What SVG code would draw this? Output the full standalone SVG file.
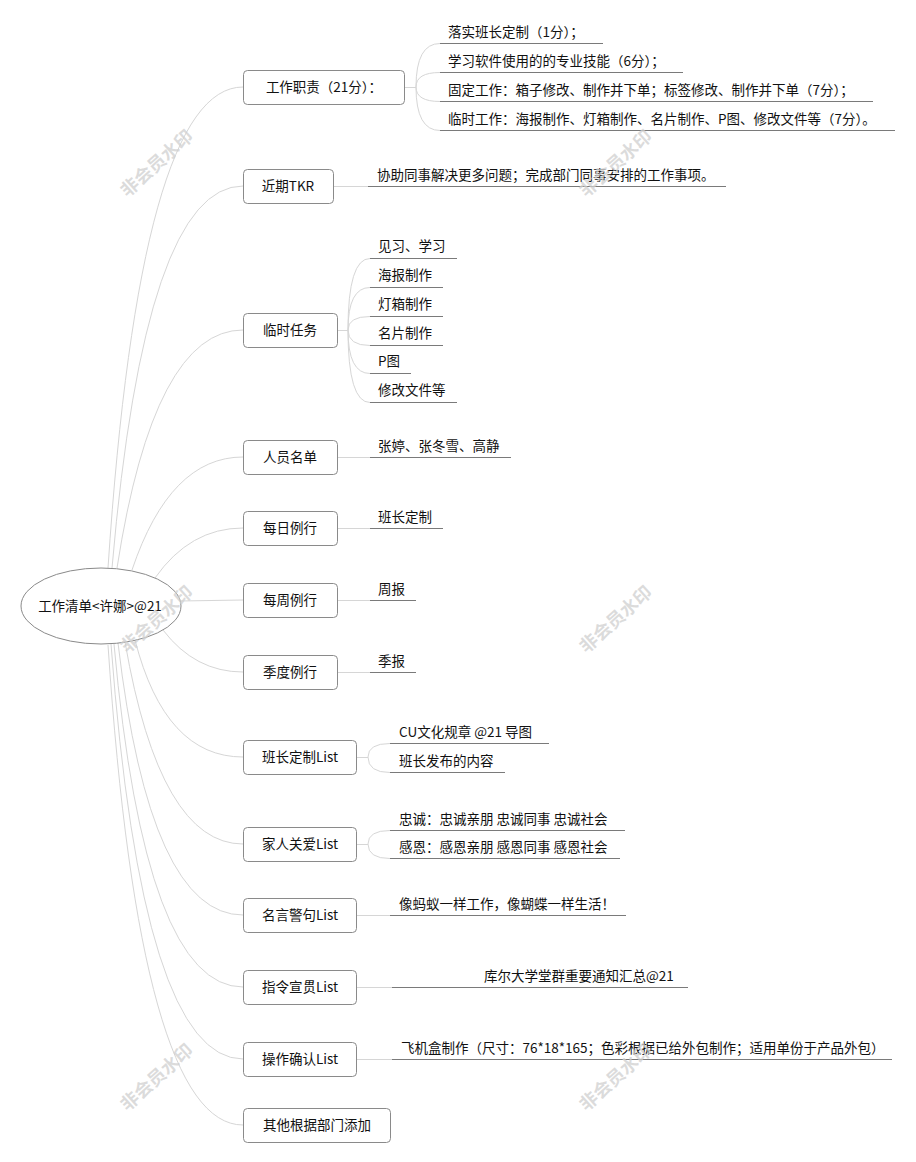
<svg xmlns="http://www.w3.org/2000/svg" width="916" height="1162" viewBox="0 0 916 1162">
<style>
text{font-family:"Noto Sans CJK SC","Liberation Sans",sans-serif;font-size:13.5px;fill:#111}
.box{fill:#fff;stroke:#8a8a8a;stroke-width:1}
.c{fill:none;stroke:#d6d6d6;stroke-width:1}
.u{fill:none;stroke:#7a7a7a;stroke-width:1}
.bt{text-anchor:middle}
.wm{font-size:18px;font-weight:bold;fill:#d0d0d0;fill-opacity:0.75;text-anchor:middle}
</style>
<rect width="916" height="1162" fill="#fff"/>
<g id="connectors">
<path class="c" d="M108,568 Q140,87 243,87"/>
<path class="c" d="M112,568 Q145,186 243,186"/>
<path class="c" d="M117,568 Q154,330 243,330"/>
<path class="c" d="M132,570 Q170,457 243,457"/>
<path class="c" d="M155,578 Q190,528 243,528"/>
<path class="c" d="M180,601 L243,600"/>
<path class="c" d="M163,630 Q195,672 243,672"/>
<path class="c" d="M135,640 Q165,757 243,757"/>
<path class="c" d="M125,642 Q160,844 243,844"/>
<path class="c" d="M118,643 Q150,915 243,915"/>
<path class="c" d="M114,644 Q145,987 243,987"/>
<path class="c" d="M111,644 Q142,1059 243,1059"/>
<path class="c" d="M108,645 Q140,1125 243,1125"/>
<path class="c" d="M404,87.5 H416 M416,87 Q416,43.5 440,43.5 M416,87 Q416,72.5 440,72.5 M416,87 Q416,101.5 440,101.5 M416,87 Q416,130.5 440,130.5"/>
<path class="c" d="M333,186.5 H368"/>
<path class="c" d="M337,330.5 H348 M348,330 Q348,258.5 370,258.5 M348,330 Q348,287.5 370,287.5 M348,330 Q348,316.5 370,316.5 M348,330 Q348,345.5 370,345.5 M348,330 Q348,373.5 370,373.5 M348,330 Q348,402.5 370,402.5"/>
<path class="c" d="M337,457.5 H370"/>
<path class="c" d="M337,528.5 H370"/>
<path class="c" d="M337,600.5 H370"/>
<path class="c" d="M337,672.5 H370"/>
<path class="c" d="M356,757.5 H368 M368,757 Q368,743.5 390,743.5 M368,757 Q368,772.5 390,772.5"/>
<path class="c" d="M356,844.5 H368 M368,844 Q368,830.5 390,830.5 M368,844 Q368,858.5 390,858.5"/>
<path class="c" d="M356,915.5 H390"/>
<path class="c" d="M356,987.5 H392"/>
<path class="c" d="M356,1059.5 H392"/>
</g>
<g id="root">
<ellipse cx="101" cy="606" rx="80" ry="38" fill="#fff" stroke="#8a8a8a"/>
<text class="bt" x="100" y="611">工作清单&lt;许娜&gt;@21</text>
</g>
<g id="n1">
<rect class="box" x="243.5" y="70.5" width="161" height="34" rx="4"/>
<text class="bt" x="324" y="92">工作职责（21分）：</text>
</g>
<g id="n1-children">
<path class="u" d="M440,43.5 H603 M440,72.5 H683 M440,101.5 H873 M440,130.5 H895"/>
<text x="448" y="37">落实班长定制（1分）；</text>
<text x="448" y="66">学习软件使用的的专业技能（6分）；</text>
<text x="448" y="95">固定工作：箱子修改、制作并下单；标签修改、制作并下单（7分）；</text>
<text x="448" y="124">临时工作：海报制作、灯箱制作、名片制作、P图、修改文件等（7分）。</text>
</g>
<g id="n2">
<rect class="box" x="243.5" y="169.5" width="90" height="34" rx="4"/>
<text class="bt" x="288" y="191">近期TKR</text>
<path class="u" d="M368,186.5 H726"/>
<text x="377" y="180">协助同事解决更多问题；完成部门同事安排的工作事项。</text>
</g>
<g id="n3">
<rect class="box" x="243.5" y="313.5" width="94" height="34" rx="4"/>
<text class="bt" x="290" y="335">临时任务</text>
<path class="u" d="M370,258.5 H457 M370,287.5 H443 M370,316.5 H443 M370,345.5 H443 M370,373.5 H411 M370,402.5 H457"/>
<text x="378" y="251">见习、学习</text>
<text x="378" y="280">海报制作</text>
<text x="378" y="309">灯箱制作</text>
<text x="378" y="338">名片制作</text>
<text x="378" y="366">P图</text>
<text x="378" y="395">修改文件等</text>
</g>
<g id="n4">
<rect class="box" x="243.5" y="440.5" width="94" height="34" rx="4"/>
<text class="bt" x="290" y="462">人员名单</text>
<path class="u" d="M370,457.5 H511"/>
<text x="378" y="451">张婷、张冬雪、高静</text>
</g>
<g id="n5">
<rect class="box" x="243.5" y="511.5" width="94" height="34" rx="4"/>
<text class="bt" x="290" y="533">每日例行</text>
<path class="u" d="M370,528.5 H443"/>
<text x="378" y="522">班长定制</text>
</g>
<g id="n6">
<rect class="box" x="243.5" y="583.5" width="94" height="34" rx="4"/>
<text class="bt" x="290" y="605">每周例行</text>
<path class="u" d="M370,600.5 H416"/>
<text x="378" y="594">周报</text>
</g>
<g id="n7">
<rect class="box" x="243.5" y="655.5" width="94" height="34" rx="4"/>
<text class="bt" x="290" y="677">季度例行</text>
<path class="u" d="M370,672.5 H416"/>
<text x="378" y="666">季报</text>
</g>
<g id="n8">
<rect class="box" x="243.5" y="740.5" width="113" height="34" rx="4"/>
<text class="bt" x="300" y="762">班长定制List</text>
<path class="u" d="M390,743.5 H549 M390,772.5 H505"/>
<text x="399" y="737">CU文化规章 @21 导图</text>
<text x="399" y="766">班长发布的内容</text>
</g>
<g id="n9">
<rect class="box" x="243.5" y="827.5" width="113" height="34" rx="4"/>
<text class="bt" x="300" y="849">家人关爱List</text>
<path class="u" d="M390,830.5 H625 M390,858.5 H620"/>
<text x="399" y="824">忠诚：忠诚亲朋 忠诚同事 忠诚社会</text>
<text x="399" y="852">感恩：感恩亲朋 感恩同事 感恩社会</text>
</g>
<g id="n10">
<rect class="box" x="243.5" y="898.5" width="113" height="34" rx="4"/>
<text class="bt" x="300" y="920">名言警句List</text>
<path class="u" d="M390,915.5 H626"/>
<text x="399" y="909">像蚂蚁一样工作，像蝴蝶一样生活！</text>
</g>
<g id="n11">
<rect class="box" x="243.5" y="970.5" width="113" height="34" rx="4"/>
<text class="bt" x="300" y="992">指令宣贯List</text>
<path class="u" d="M392,987.5 H688"/>
<text x="484" y="981">库尔大学堂群重要通知汇总@21</text>
</g>
<g id="n12">
<rect class="box" x="243.5" y="1042.5" width="113" height="34" rx="4"/>
<text class="bt" x="300" y="1064">操作确认List</text>
<path class="u" d="M392,1059.5 H892"/>
<text x="401" y="1053">飞机盒制作（尺寸：76*18*165；色彩根据已给外包制作；适用单份于产品外包）</text>
</g>
<g id="n13">
<rect class="box" x="243.5" y="1108.5" width="147" height="34" rx="4"/>
<text class="bt" x="317" y="1130">其他根据部门添加</text>
</g>
<g id="watermarks">
<text class="wm" transform="translate(161,168) rotate(-42)">非会员水印</text>
<text class="wm" transform="translate(620,168) rotate(-42)">非会员水印</text>
<text class="wm" transform="translate(161,624) rotate(-42)">非会员水印</text>
<text class="wm" transform="translate(620,624) rotate(-42)">非会员水印</text>
<text class="wm" transform="translate(161,1082) rotate(-42)">非会员水印</text>
<text class="wm" transform="translate(620,1082) rotate(-42)">非会员水印</text>
</g>
</svg>
